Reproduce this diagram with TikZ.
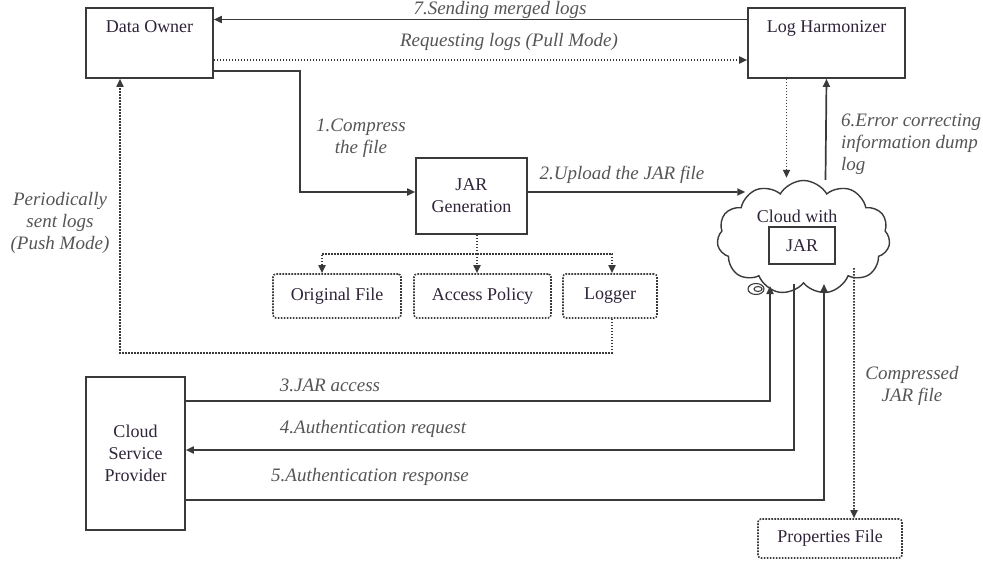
\documentclass[tikz,border=0pt]{standalone}
\usepackage{fontspec}
\setmainfont{Liberation Serif}
\usetikzlibrary{arrows.meta,shapes.symbols}

\definecolor{lncol}{RGB}{58,58,58}
\definecolor{boxtext}{RGB}{48,36,58}
\definecolor{lbltext}{RGB}{85,85,85}
\newcommand{\dgsize}{\fontsize{18}{22}\selectfont}
\newcommand{\lblsize}{\fontsize{19}{22}\selectfont}

\tikzset{
  box/.style={draw=lncol, line width=1.6pt, fill=white, text=boxtext, align=center, inner sep=0pt},
  dotbox/.style={box, dash pattern=on 1.6pt off 1.4pt, rounded corners=3pt},
  toplbl/.style={anchor=north, yshift=-13pt, inner sep=0pt, text=boxtext},
  lbl/.style={text=lbltext, font=\lblsize\itshape, align=center, inner sep=0pt},
  ln/.style={draw=lncol, line width=1.7pt},
  arr/.style={ln, -{Triangle[length=8pt,width=7pt]}},
  dotln/.style={ln, dash pattern=on 1.6pt off 1.4pt},
  dotarr/.style={dotln, -{Triangle[length=8pt,width=7pt]}}
}

\begin{document}
\begin{tikzpicture}[x=1pt, y=-1pt, font=\dgsize]
	\useasboundingbox (0,0) rectangle (983,562);

	% main boxes
	\node[box, minimum width=127pt, minimum height=70pt, label={[toplbl]north:Data Owner}] (owner) at (149.5,43) {};
	\node[box, minimum width=157pt, minimum height=70pt, label={[toplbl]north:Log Harmonizer}] (lh) at (826.5,43) {};
	\node[box, minimum width=111pt, minimum height=76pt] (jar) at (471.5,196) {JAR\\Generation};
	\node[box, minimum width=99pt, minimum height=153pt] (csp) at (135.5,453.5) {Cloud\\Service\\Provider};

	% jar contents
	\node[dotbox, minimum width=128pt, minimum height=44pt] (orig) at (337,296) {Original File};
	\node[dotbox, minimum width=137pt, minimum height=44pt] (policy) at (482.5,296) {Access Policy};
	\node[dotbox, minimum width=94pt, minimum height=44pt] (logger) at (610,296) {Logger};
	\node[dotbox, minimum width=144pt, minimum height=39pt] (props) at (830,538.5) {Properties File};

	% the cloud
	\node[cloud, draw=lncol, line width=1.4pt, cloud puffs=11, cloud puff arc=120, aspect=1.5, minimum width=173pt, minimum height=114pt] (cloud) at (803.5,237.5) {};
	\draw[lncol, line width=1.1pt] (756,289) ellipse [x radius=8, y radius=5.5];
	\draw[lncol, line width=1.1pt] (758,289) ellipse [x radius=4, y radius=2.5];
	\node[text=boxtext, inner sep=0pt] (cloudtxt) at (797,216) {Cloud with};
	\node[box, line width=1.3pt, minimum width=66pt, minimum height=37pt] (jarbox) at (802,245.5) {JAR};

	% connectors
	\draw[arr] ([yshift=23.5pt]lh.west) -- ([yshift=23.5pt]owner.east);
	\draw[dotarr] ([yshift=-17pt]owner.east) -- ([yshift=-17pt]lh.west);
	\draw[arr] ([yshift=8pt]owner.south east) -- ++(86,0) |- ([yshift=4pt]jar.west);
	\draw[arr] ([yshift=4pt]jar.east) -- ([xshift=28pt,yshift=45.5pt]cloud.west);
	\draw[dotarr] ([xshift=-40pt]lh.south) -- ([xshift=-17pt,yshift=2pt]cloud.north);
	\draw[arr] ([xshift=22pt]cloud.north) -- (lh.south);

	\draw[dotln] ([xshift=5.5pt]jar.south) -- ++(0,19) coordinate (split);
	\draw[dotarr] (split) -| ([xshift=-15pt]orig.north);
	\draw[dotarr] (split) -- (split |- policy.north);
	\draw[dotarr] (split) -| ([xshift=2pt]logger.north);
	\draw[dotarr] ([xshift=2pt]logger.south) -- ++(0,34) -| ([xshift=-29.5pt]owner.south);

	\draw[arr] ([yshift=52.5pt]csp.east) -| ([xshift=-33.5pt,yshift=-2pt]cloud.south);
	\draw[arr] ([xshift=-9.5pt]cloud.south) |- ([yshift=3.5pt]csp.east);
	\draw[arr] ([yshift=-46.5pt]csp.east) -| ([xshift=20.5pt]cloud.south);
	\draw[dotarr] ([xshift=50.5pt,yshift=16pt]cloud.south) -- ([xshift=24pt]props.north);

	% labels
	\node[lbl] (l7) at (500,10) {7.Sending merged logs};
	\node[lbl] (lpull) at (509,42) {Requesting logs (Pull Mode)};
	\node[lbl] (l1) at (361,138) {1.Compress\\the file};
	\node[lbl] (l2) at (622,175) {2.Upload the JAR file};
	\node[lbl, anchor=west, align=left] (l6) at (841,144) {6.Error correcting\\information dump\\log};
	\node[lbl] (lpush) at (60,223) {Periodically\\sent logs\\(Push Mode)};
	\node[lbl] (l3) at (330,385) {3.JAR access};
	\node[lbl] (l4) at (373,429) {4.Authentication request};
	\node[lbl] (l5) at (370,477) {5.Authentication response};
	\node[lbl] (lcomp) at (912,386) {Compressed\\JAR file};
\end{tikzpicture}
\end{document}
